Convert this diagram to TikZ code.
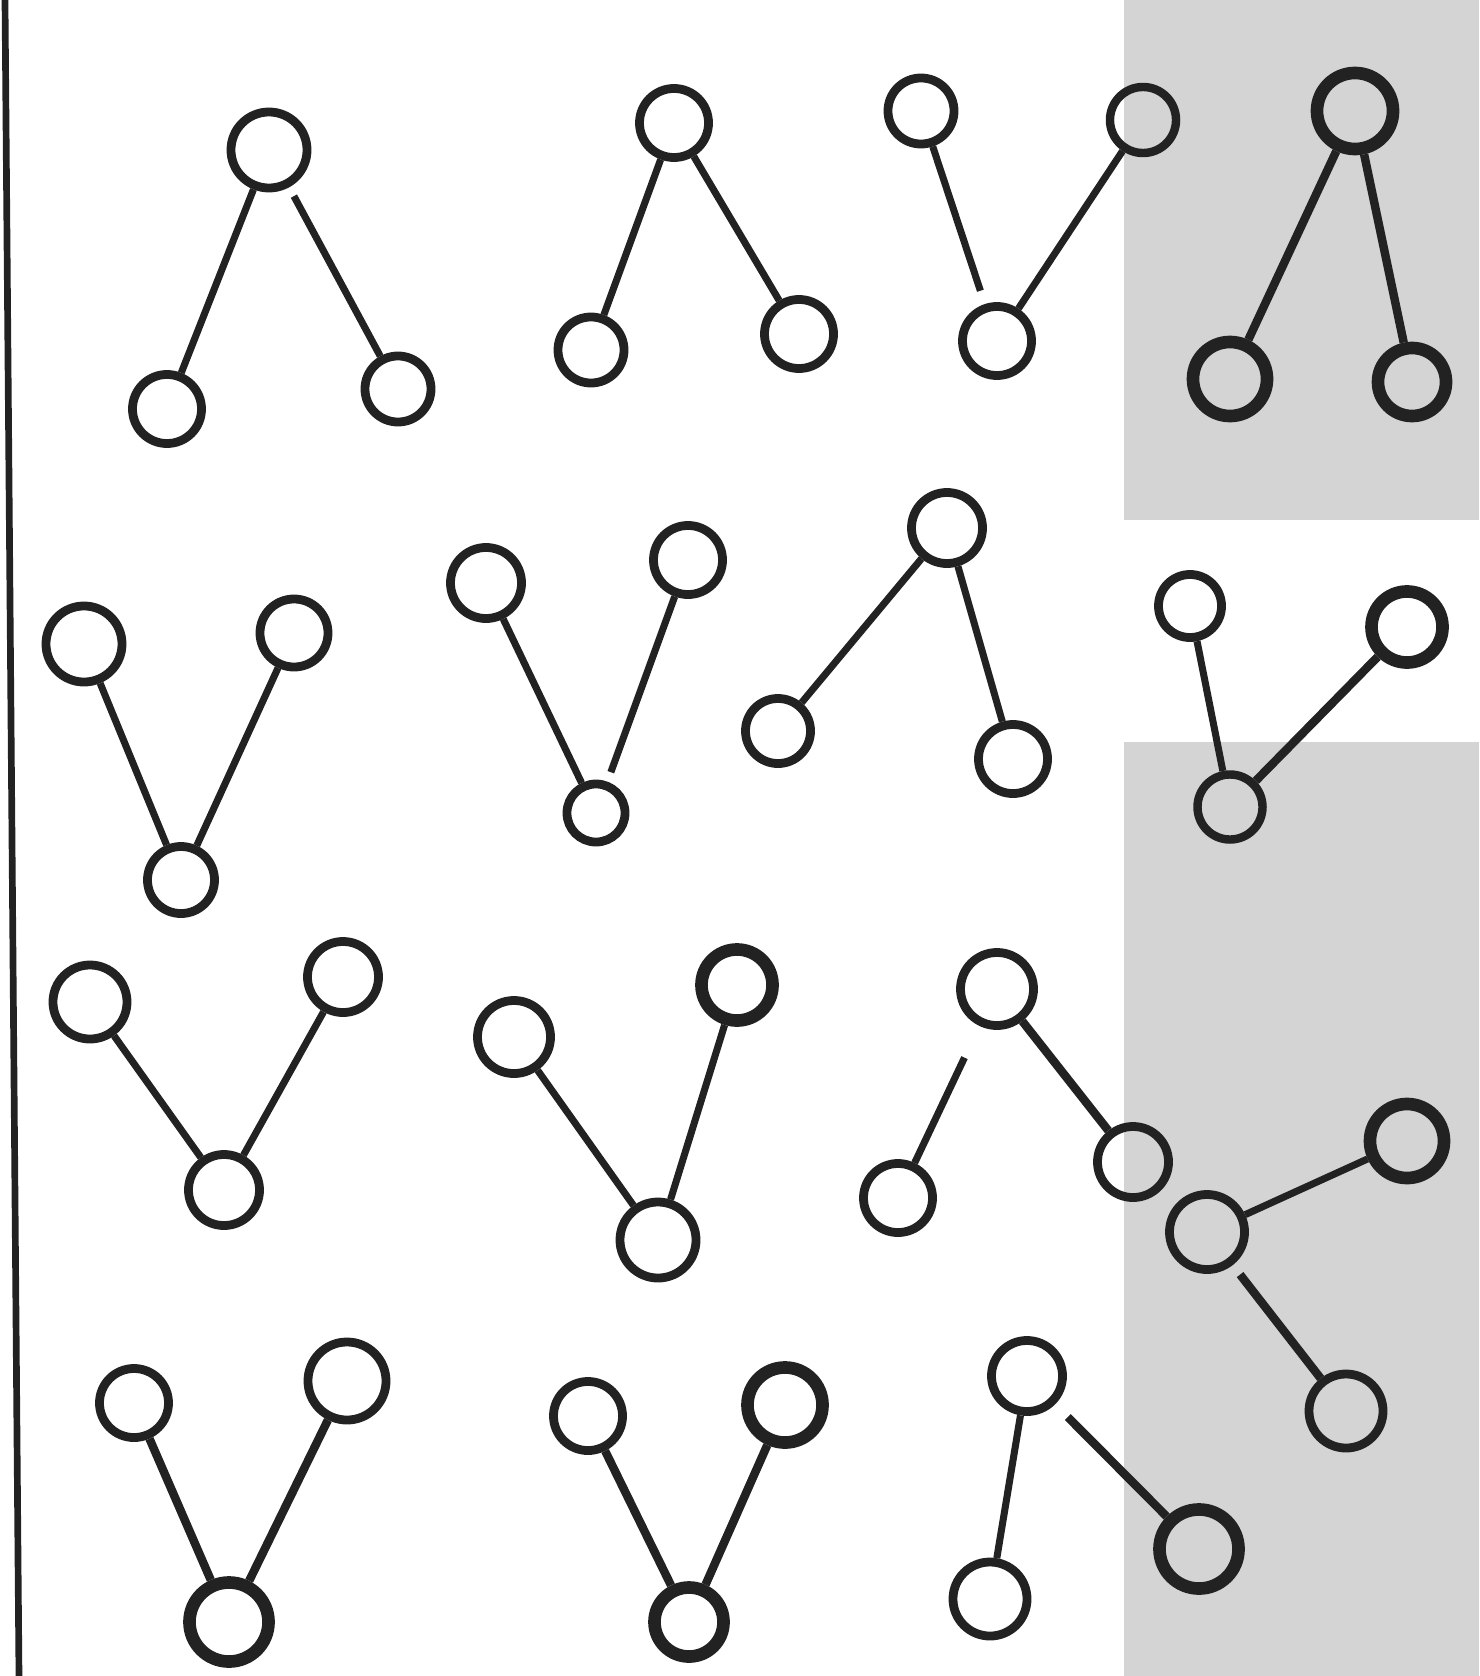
\documentclass[tikz,border=0pt]{standalone}
\usetikzlibrary{calc}
\definecolor{ink}{RGB}{34,34,34}
\definecolor{shade}{RGB}{212,212,212}
\begin{document}
\begin{tikzpicture}[x=0.01cm,y=-0.01cm,
  vtx/.style={circle, draw=ink, line width=2.5pt, inner sep=0pt, minimum size=#1},
  vtx/.default=0.72cm,
  thk/.style={line width=3.6pt},
  edge/.style={draw=ink, line width=2pt},
  bold/.style={line width=2.4pt},
  panel/.style={fill=shade, draw=none},
  rule/.style={draw=ink, line width=1.9pt}]
\useasboundingbox (0,0) rectangle (1479,1676);
\fill[white] (0,0) rectangle (1479,1676);
% shaded panels
\fill[panel] (1124,0) rectangle (1479,520);
\fill[panel] (1124,742) rectangle (1479,1676);
% left rule
\coordinate (rt) at (5,0);
\coordinate (rb) at (19,1676);
\draw[rule] (rt) -- (rb);
% Row 1
\node[vtx=0.76cm] (g1a) at (269,150) {};
\node[vtx=0.69cm] (g1b) at (167,409) {};
\node[vtx=0.66cm] (g1c) at (398,389) {};
\draw[edge] (g1a) -- (g1b);
\draw[edge,shorten <=0.1cm] (g1a) -- (g1c);

\node[vtx=0.69cm] (g2a) at (674,123) {};
\node[vtx=0.66cm] (g2b) at (591,350) {};
\node[vtx=0.69cm] (g2c) at (799,334) {};
\draw[edge] (g2a) -- (g2b);
\draw[edge] (g2a) -- (g2c);

\node[vtx=0.66cm] (g3a) at (921,111) {};
\node[vtx=0.69cm] (g3b) at (997,341) {};
\node[vtx=0.66cm,bold] (g3c) at (1143,120) {};
\draw[edge,shorten >=0.14cm] (g3a) -- (g3b);
\draw[edge] (g3c) -- (g3b);

\node[vtx=0.76cm,thk] (g4a) at (1355,111) {};
\node[vtx=0.74cm,thk] (g4b) at (1230,379) {};
\node[vtx=0.68cm,thk] (g4c) at (1412,382) {};
\draw[edge,bold] (g4a) -- (g4b);
\draw[edge,bold] (g4a) -- (g4c);
% Row 2
\node[vtx=0.76cm] (g5a) at (84,644) {};
\node[vtx=0.67cm] (g5b) at (181,880) {};
\node[vtx=0.68cm] (g5c) at (294,633) {};
\draw[edge] (g5a) -- (g5b);
\draw[edge] (g5c) -- (g5b);

\node[vtx=0.71cm] (g6a) at (486,583) {};
\node[vtx=0.58cm] (g6b) at (596,813) {};
\node[vtx=0.69cm] (g6c) at (688,560) {};
\draw[edge] (g6a) -- (g6b);
\draw[edge,shorten >=0.1cm] (g6c) -- (g6b);

\node[vtx=0.71cm] (g7a) at (947,528) {};
\node[vtx=0.65cm] (g7b) at (778,731) {};
\node[vtx=0.69cm] (g7c) at (1013,759) {};
\draw[edge] (g7a) -- (g7b);
\draw[edge] (g7a) -- (g7c);

\node[vtx=0.63cm] (g8a) at (1190,606) {};
\node[vtx=0.65cm,bold] (g8b) at (1230,807) {};
\node[vtx=0.71cm,thk] (g8c) at (1407,627) {};
\draw[edge] (g8a) -- (g8b);
\draw[edge,bold] (g8c) -- (g8b);
% Row 3
\node[vtx=0.74cm] (g9a) at (90,1002) {};
\node[vtx=0.71cm] (g9b) at (224,1190) {};
\node[vtx=0.71cm] (g9c) at (343,977) {};
\draw[edge] (g9a) -- (g9b);
\draw[edge] (g9c) -- (g9b);

\node[vtx=0.73cm] (g10a) at (514,1037) {};
\node[vtx=0.76cm] (g10b) at (658,1240) {};
\node[vtx=0.71cm,thk] (g10c) at (737,985) {};
\draw[edge] (g10a) -- (g10b);
\draw[edge] (g10c) -- (g10b);

\node[vtx=0.73cm] (g11a) at (997,989) {};
\node[vtx=0.69cm] (g11b) at (898,1198) {};
\node[vtx=0.71cm] (g11c) at (1133,1162) {};
\draw[edge,shorten <=0.35cm] (g11a) -- (g11b);
\draw[edge,bold] (g11a) -- (g11c);

\node[vtx=0.75cm] (g12a) at (1207,1232) {};
\node[vtx=0.74cm,thk] (g12b) at (1407,1141) {};
\node[vtx=0.74cm] (g12c) at (1346,1411) {};
\draw[edge] (g12a) -- (g12b);
\draw[edge,bold,shorten <=0.12cm] (g12a) -- (g12c);
% Row 4
\node[vtx=0.69cm] (g13a) at (134,1403) {};
\node[vtx=0.79cm,thk] (g13b) at (229,1622) {};
\node[vtx=0.78cm] (g13c) at (347,1381) {};
\draw[edge,bold] (g13a) -- (g13b);
\draw[edge,bold] (g13c) -- (g13b);

\node[vtx=0.69cm] (g14a) at (588,1416) {};
\node[vtx=0.69cm,thk] (g14b) at (689,1622) {};
\node[vtx=0.75cm,thk] (g14c) at (785,1405) {};
\draw[edge,bold] (g14a) -- (g14b);
\draw[edge,bold] (g14c) -- (g14b);

\node[vtx=0.71cm] (g15a) at (1027,1376) {};
\node[vtx=0.74cm] (g15b) at (990,1599) {};
\node[vtx=0.79cm,thk] (g15c) at (1199,1549) {};
\draw[edge] (g15a) -- (g15b);
\draw[edge,bold,shorten <=0.18cm] (g15a) -- (g15c);
\end{tikzpicture}
\end{document}
